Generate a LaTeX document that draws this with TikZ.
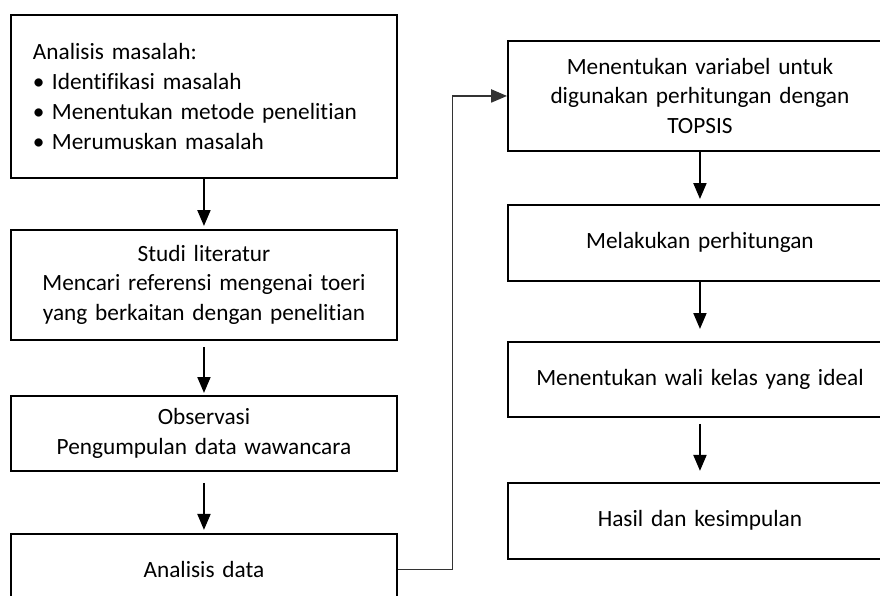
\documentclass[tikz,border=0pt]{standalone}
\usepackage{fontspec}
\setmainfont{Carlito}[Ligatures=NoCommon]
\usetikzlibrary{positioning,calc,arrows.meta}

\begin{document}
\begin{tikzpicture}[
    % Style definitions
    box/.style={rectangle, draw=black, line width=1.1pt, inner xsep=0.44cm, inner ysep=0pt, text width=6.84cm, align=center, font=\fontsize{13.25}{17}\selectfont},
    leftbox/.style={box, minimum width=7.72cm},
    rightbox/.style={box, text width=6.8cm, minimum width=7.68cm},
    arrow/.style={-{Triangle[length=9pt,width=7.5pt]}, line width=0.7pt, color=black},
    link/.style={arrow, color=black!80}
]
\useasboundingbox (0,0) rectangle (17.6,-11.92);
\clip (0,0) rectangle (17.6,-11.92);

% Left column
\node[leftbox, align=left, minimum height=3.26cm, anchor=north west] (masalah) at (0.2,-0.28) {
    Analisis masalah:\\
    \makebox[0.38cm][l]{\textbullet}Identifikasi masalah\\
    \makebox[0.38cm][l]{\textbullet}Menentukan metode penelitian\\
    \makebox[0.38cm][l]{\textbullet}Merumuskan masalah
};

\node[leftbox, minimum height=2.2cm, below=1.0cm of masalah] (literatur) {
    Studi literatur\\
    Mencari referensi mengenai toeri\\
    yang berkaitan dengan penelitian
};

\node[leftbox, minimum height=1.5cm, below=1.08cm of literatur] (observasi) {
    Observasi\\
    Pengumpulan data wawancara
};

\node[leftbox, minimum height=1.44cm, below=1.22cm of observasi] (analisis) {
    Analisis data
};

% Right column
\node[rightbox, minimum height=2.2cm, anchor=north west] (variabel) at (10.14,-0.8) {
    Menentukan variabel untuk\\
    digunakan perhitungan dengan\\
    TOPSIS
};

\node[rightbox, minimum height=1.52cm, below=1.04cm of variabel] (hitung) {
    Melakukan perhitungan
};

\node[rightbox, minimum height=1.5cm, below=1.18cm of hitung] (walikelas) {
    Menentukan wali kelas yang ideal
};

\node[rightbox, minimum height=1.52cm, below=1.28cm of walikelas] (hasil) {
    Hasil dan kesimpulan
};

% Connections
\draw[arrow, shorten >=0.06cm] (masalah.south) -- (literatur.north);
\draw[arrow, shorten <=0.12cm, shorten >=0.04cm] (literatur.south) -- (observasi.north);
\draw[arrow, shorten <=0.22cm, shorten >=0.06cm] (observasi.south) -- (analisis.north);

\coordinate (turn) at ($(analisis.east)!0.5!(variabel.west)$);
\draw[link] (analisis.east) -| (turn) |- (variabel.west);

\draw[arrow, shorten >=0.1cm] (variabel.south) -- (hitung.north);
\draw[arrow, shorten >=0.24cm] (hitung.south) -- (walikelas.north);
\draw[arrow, shorten <=0.12cm, shorten >=0.22cm] (walikelas.south) -- (hasil.north);

\end{tikzpicture}
\end{document}
